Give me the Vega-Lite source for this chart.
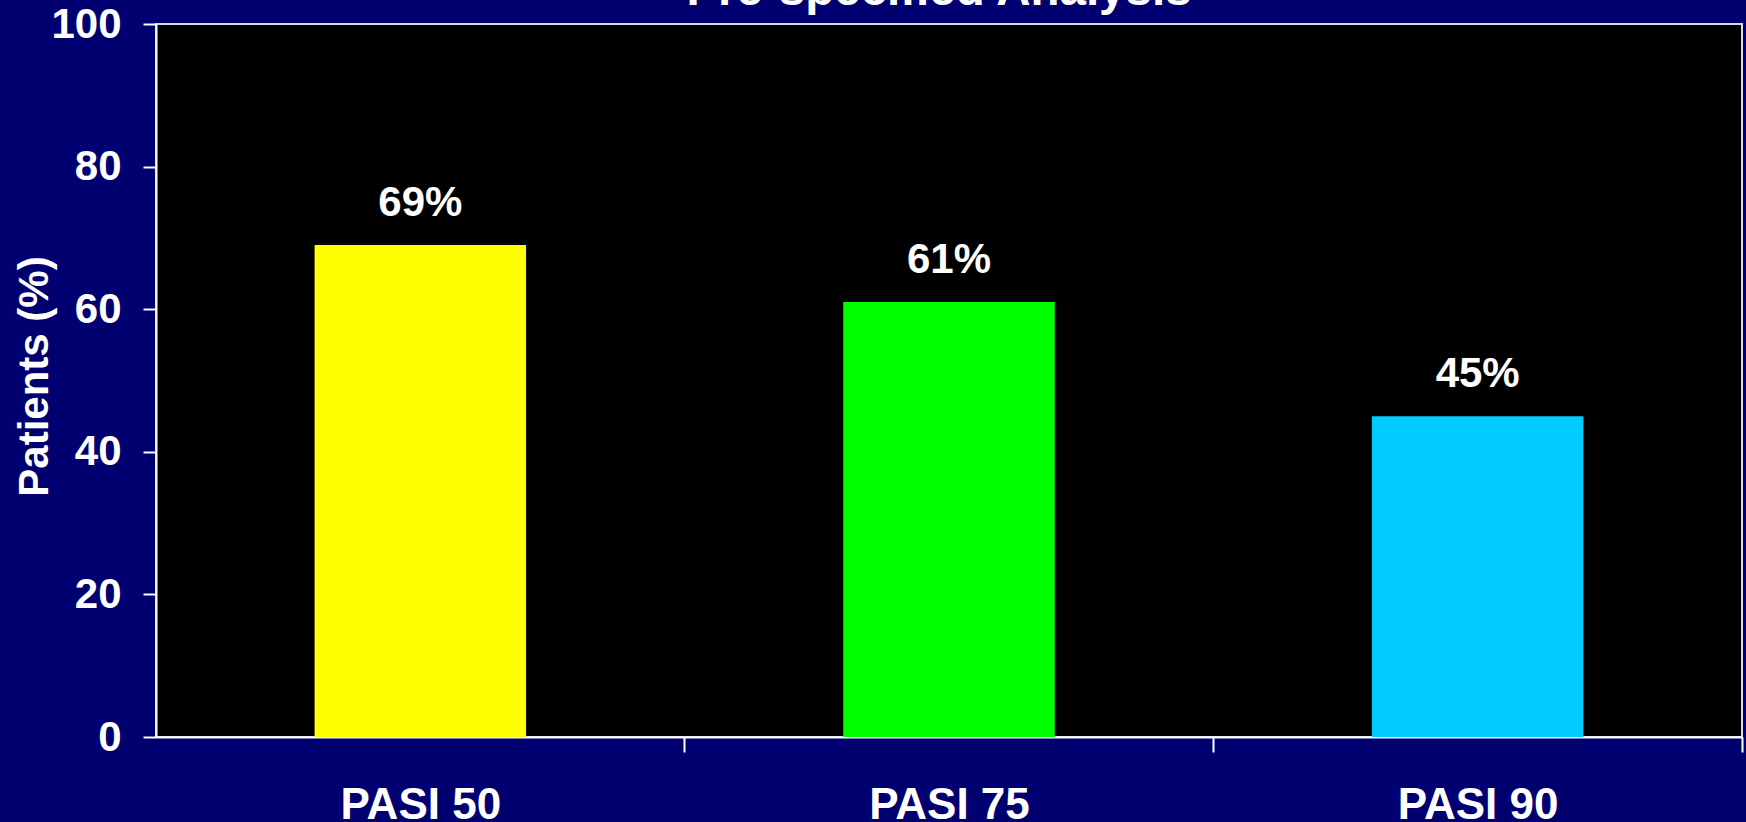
{
  "$schema": "https://vega.github.io/schema/vega-lite/v6.json",
  "autosize": {"type": "none"},
  "width": 1586,
  "height": 713,
  "padding": {"left": 156, "top": 24, "right": 4, "bottom": 85},
  "background": "#000070",
  "title": {
    "text": "Pre-specified Analysis",
    "frame": "group",
    "anchor": "middle",
    "orient": "top",
    "baseline": "alphabetic",
    "offset": 0,
    "dx": -10,
    "dy": 49,
    "font": "Liberation Sans",
    "fontWeight": "bold",
    "fontSize": 47.5,
    "color": "#ffffff"
  },
  "config": {
    "view": {"fill": "#000000", "stroke": "#d8d8ec", "strokeWidth": 2},
    "font": "Liberation Sans",
    "axis": {
      "domainColor": "#ffffff",
      "domainWidth": 2,
      "tickColor": "#ffffff",
      "tickWidth": 2,
      "grid": false,
      "labelColor": "#ffffff",
      "labelFont": "Liberation Sans",
      "labelFontWeight": "bold",
      "titleColor": "#ffffff",
      "titleFont": "Liberation Sans",
      "titleFontWeight": "bold"
    }
  },
  "data": {
    "values": [
      {"measure": "PASI 50", "patients": 69, "label": "69%"},
      {"measure": "PASI 75", "patients": 61, "label": "61%"},
      {"measure": "PASI 90", "patients": 45, "label": "45%"}
    ]
  },
  "encoding": {
    "x": {
      "field": "measure",
      "type": "nominal",
      "sort": null,
      "scale": {"paddingInner": 0.6, "paddingOuter": 0.3},
      "axis": {
        "title": null,
        "labelAngle": 0,
        "labelFontSize": 44,
        "labelPadding": 31,
        "tickSize": 15,
        "tickOffset": 264,
        "labelOffset": -264
      }
    },
    "y": {
      "field": "patients",
      "type": "quantitative",
      "scale": {"domain": [0, 100], "nice": false},
      "axis": {
        "title": "Patients (%)",
        "values": [0, 20, 40, 60, 80, 100],
        "labelFontSize": 42,
        "labelPadding": 22,
        "tickSize": 13,
        "titleFontSize": 42,
        "titleAngle": -90,
        "titleAlign": "center",
        "titleBaseline": "alphabetic",
        "titleX": -109,
        "titleY": 352
      }
    }
  },
  "layer": [
    {
      "mark": {"type": "bar"},
      "encoding": {
        "color": {
          "field": "measure",
          "type": "nominal",
          "sort": null,
          "scale": {"domain": ["PASI 50", "PASI 75", "PASI 90"], "range": ["#ffff00", "#00ff00", "#00ccff"]},
          "legend": null
        }
      }
    },
    {
      "mark": {
        "type": "text",
        "baseline": "alphabetic",
        "dy": -29,
        "fontSize": 42,
        "fontWeight": "bold",
        "color": "#ffffff"
      },
      "encoding": {"text": {"field": "label"}}
    }
  ]
}
